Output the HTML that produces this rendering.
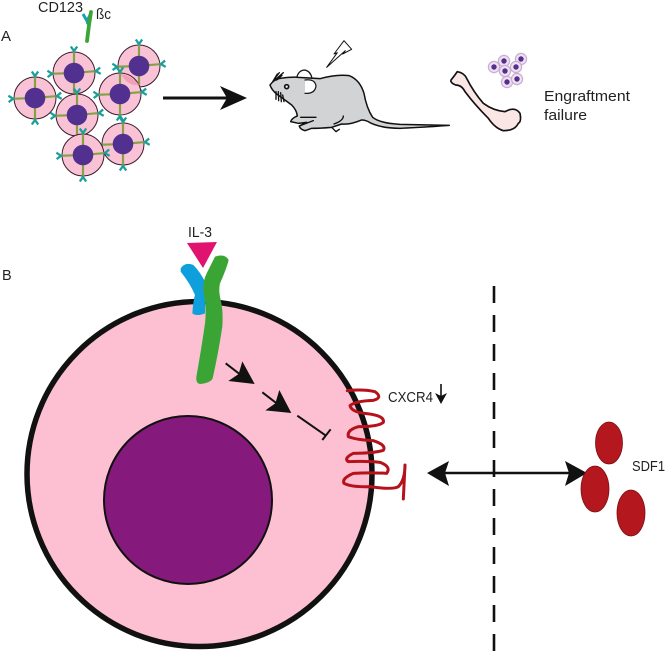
<!DOCTYPE html>
<html><head><meta charset="utf-8"><style>
html,body{margin:0;padding:0;background:#fff}
svg{display:block}
text{font-family:"Liberation Sans",sans-serif;fill:#231f20}
</style></head><body>
<svg width="665" height="651" viewBox="0 0 665 651" xmlns="http://www.w3.org/2000/svg">
<defs>
<g id="r">
<line x1="0" y1="-9" x2="0" y2="-22" stroke="#86a044" stroke-width="2.2"/>
<path d="M-3.2,-26.5 L0,-22 L3.2,-26.5" fill="none" stroke="#1a9f9a" stroke-width="2.3"/>
</g>
<g id="cell">
<circle r="21" fill="#f9c3d5" stroke="#3a1c2e" stroke-width="1"/>
<use href="#r"/><use href="#r" transform="rotate(85)"/><use href="#r" transform="rotate(180)"/><use href="#r" transform="rotate(268)"/>
<circle r="10.3" fill="#51308f"/>
</g>
<g id="mini">
<circle r="5.6" fill="#f3dfee" stroke="#c4b0d4" stroke-width="1.2"/>
<circle r="2.7" fill="#51308f"/>
</g>
</defs>

<text x="38" y="12" font-size="14.5" textLength="45" lengthAdjust="spacingAndGlyphs">CD123</text>
<text x="96" y="19" font-size="15" textLength="15" lengthAdjust="spacingAndGlyphs">ßc</text>
<text x="1" y="41" font-size="15">A</text>
<text x="2" y="280" font-size="14.5">B</text>

<path d="M83,14 L87,21 L91,13" fill="none" stroke="#1b9fb5" stroke-width="3"/>
<path d="M87,22 L88,24" fill="none" stroke="#1b9fb5" stroke-width="3"/>
<path d="M91,12 L89,25 L87,41" fill="none" stroke="#3aa535" stroke-width="3.8" stroke-linecap="round"/>

<use href="#cell" x="35" y="98"/>
<use href="#cell" x="74" y="73"/>
<use href="#cell" x="139" y="66"/>
<use href="#cell" x="120" y="94"/>
<use href="#cell" x="77" y="115"/>
<use href="#cell" x="123" y="144"/>
<use href="#cell" x="83" y="155"/>
<path d="M121,74 Q132,76 140,85 Q128,87 121,74Z" fill="#f08fa8" opacity=".7"/>

<line x1="163" y1="98" x2="228" y2="98" stroke="#111" stroke-width="3"/>
<path d="M220,86 L247,98 L220,110 L227,98Z" fill="#111"/>

<!-- mouse -->
<g transform="translate(260,30) scale(.3333)" stroke="#111" stroke-width="4.5" stroke-linejoin="round" stroke-linecap="round">
<path d="M110,143 Q116,120 135,120 Q152,124 156,145 Z" fill="#fff" stroke-width="3.5"/>
<path d="M30,165 Q40,150 60,145 Q100,140 115,142 L180,146 Q230,132 268,137 Q300,150 312,190 Q320,235 338,262 Q360,280 420,283 L568,286 Q470,293 420,295 Q365,295 330,278 Q318,270 305,270 Q270,285 245,282 L215,292 Q180,295 155,295 L135,302 Q120,298 118,288 L140,277 L115,280 L92,275 Q95,265 112,258 Q110,240 95,225 Q75,210 50,192 Q35,180 30,165Z" fill="#d1d3d4"/>
<path d="M135,150 Q165,146 168,168 Q165,192 135,190 Z" fill="#fff" stroke="none"/>
<path d="M135,150 Q165,146 168,168 Q165,192 135,190" fill="none" stroke-width="3.5"/>
<circle cx="80" cy="170" r="6" fill="#fff" stroke-width="5"/>
<path d="M40,152 L58,128 M45,150 L70,128 M38,155 L52,132 M50,150 L66,136 M48,185 L48,208 M55,185 L56,212 M62,188 L64,215 M68,195 L72,215" fill="none" stroke-width="4"/>
<path d="M122,262 L168,262 M250,258 Q250,272 222,282 M118,288 L160,272 M215,292 L228,305 L238,298" fill="none" stroke-width="4"/>
<path d="M200,112 L232,68 L222,72 L252,32 L275,58 L248,72 L256,62 Z" fill="#fff" stroke-width="3"/>
</g>

<!-- bone -->
<g transform="translate(440,40) scale(.3333)">
<path d="M52,95 Q72,98 80,115 Q100,155 130,190 Q160,212 195,215 Q225,198 240,220 Q245,245 235,250 Q225,272 190,272 Q165,265 145,235 Q105,195 75,155 Q65,135 47,135 Q30,128 33,120 Q40,112 52,95Z" fill="#fbe6e6" stroke="#111" stroke-width="5"/>
</g>
<use href="#mini" x="494" y="67"/><use href="#mini" x="504" y="61"/><use href="#mini" x="521" y="59"/><use href="#mini" x="516" y="67"/><use href="#mini" x="505" y="71"/><use href="#mini" x="507" y="82"/><use href="#mini" x="517" y="79"/>

<text x="544" y="101" font-size="15" textLength="86" lengthAdjust="spacingAndGlyphs">Engraftment</text>
<text x="544" y="120" font-size="15" textLength="43" lengthAdjust="spacingAndGlyphs">failure</text>

<!-- big cell -->
<circle cx="199.5" cy="474" r="172.5" fill="#fcc0d2" stroke="#111" stroke-width="5.5"/>
<circle cx="188" cy="500" r="84" fill="#861a7c" stroke="#111" stroke-width="2"/>

<text x="188" y="237" font-size="15" textLength="24" lengthAdjust="spacingAndGlyphs">IL-3</text>
<path d="M187,243 L217,242 L203,268Z" fill="#e0136f"/>
<g transform="translate(160,220) scale(.3333)">
<path d="M62,145 Q75,125 100,135 Q120,155 135,185 L135,280 Q110,290 97,280 Q100,240 105,225 Q90,190 62,155Z" fill="#0f9fdc"/>
<path d="M165,110 Q195,100 206,120 Q200,145 180,190 Q175,210 182,240 Q190,270 187,320 Q175,400 158,475 Q150,490 120,492 Q105,490 110,465 Q125,380 135,310 Q140,270 132,225 Q125,190 140,160 Z" fill="#3aa535"/>
<path d="M197,430 L262,480" stroke="#111" stroke-width="6" fill="none"/>
<path d="M247,424 L284,492 L205,483 L236,462Z" fill="#111"/>
<path d="M307,517 L372,567" stroke="#111" stroke-width="6" fill="none"/>
<path d="M358,510 L394,579 L316,571 L346,550Z" fill="#111"/>
<path d="M412,587 L498,647 M512,628 L487,660" stroke="#111" stroke-width="6" fill="none"/>
</g>

<!-- CXCR4 -->
<g transform="translate(330,375) scale(.3333)">
<path d="M52,47 Q100,42 135,50 Q160,68 130,76 Q75,78 60,92 Q65,112 110,116 Q165,122 160,142 Q145,155 85,155 Q50,165 55,185 Q80,195 130,197 Q170,210 160,226 Q130,235 70,235 Q40,250 55,260 Q110,258 150,262 Q185,275 170,295 Q120,292 70,295 Q35,310 42,325 Q65,337 120,335 Q190,345 205,335 Q225,315 225,270 L220,372" fill="none" stroke="#b5121b" stroke-width="9" stroke-linejoin="round" stroke-linecap="round"/>
</g>
<text x="388" y="402" font-size="15" textLength="45" lengthAdjust="spacingAndGlyphs">CXCR4</text>
<line x1="441" y1="384" x2="441" y2="398" stroke="#111" stroke-width="1.6"/>
<path d="M435,393 L441,404 L447,393 L441,396Z" fill="#111"/>

<!-- double arrow -->
<line x1="440" y1="473" x2="575" y2="473" stroke="#111" stroke-width="2.6"/>
<path d="M427,473 L449,461 L445,473 L449,486Z" fill="#111"/>
<path d="M587,473 L565,461 L569,473 L565,486Z" fill="#111"/>

<line x1="494" y1="286" x2="494" y2="651" stroke="#111" stroke-width="2.6" stroke-dasharray="17 12"/>

<ellipse cx="609" cy="443" rx="13.5" ry="21" fill="#b5171e" stroke="#7a1015" stroke-width=".8"/>
<ellipse cx="595" cy="489" rx="14" ry="23" fill="#b5171e" stroke="#7a1015" stroke-width=".8"/>
<ellipse cx="631" cy="513" rx="14" ry="23" fill="#b5171e" stroke="#7a1015" stroke-width=".8"/>
<text x="632" y="471" font-size="15" textLength="33" lengthAdjust="spacingAndGlyphs">SDF1</text>
</svg>
</body></html>
